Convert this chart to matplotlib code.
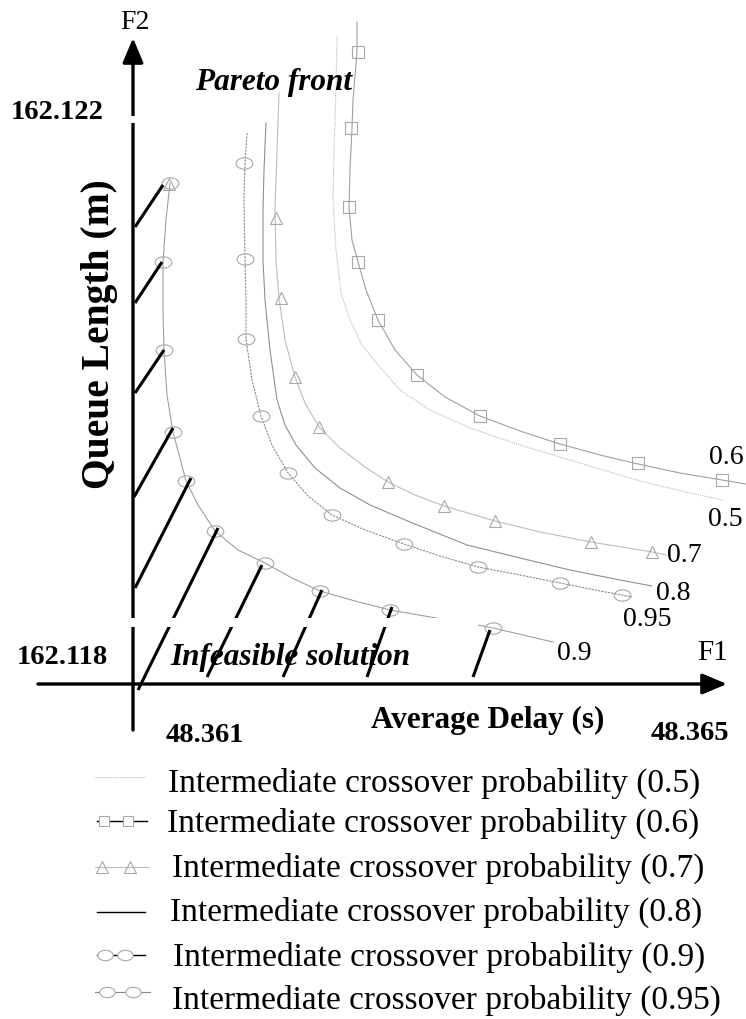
import matplotlib
matplotlib.use('Agg')
import matplotlib.pyplot as plt
import numpy as np
from matplotlib.path import Path
from matplotlib.patches import Rectangle

plt.rcParams['font.family'] = ['Liberation Serif', 'DejaVu Serif']

# ---------------- data (schematic coordinates) ----------------
# Pareto curves for each intermediate crossover probability
p05_x = [337, 336, 334, 333, 336, 341, 350, 362, 378, 400, 430, 470, 520, 580, 640, 690, 723]
p05_y = [37, 90, 150, 200, 250, 293, 320, 345, 365, 390, 410, 428, 445, 463, 481, 493, 500]

p06_x = [357, 357, 353, 352, 350, 349, 352, 358, 366, 378, 395, 417, 445, 480, 520, 560, 600, 638, 680, 722, 746]
p06_y = [22, 52, 100, 128, 170, 207, 240, 262, 290, 320, 350, 375, 397, 416, 431, 444, 455, 464, 473, 480, 484]
p06_mx = [358, 351, 349, 358, 378, 417, 480, 560, 638, 722]
p06_my = [52, 128, 207, 262, 320, 375, 416, 444, 463, 480]

p07_x = [279, 277, 275, 276, 279, 285, 295, 305, 319, 340, 365, 388, 415, 444, 495, 540, 591, 652, 666]
p07_y = [93, 150, 210, 260, 298, 340, 377, 403, 427, 448, 467, 482, 495, 506, 521, 532, 542, 552, 555]
p07_mx = [276, 281, 295, 319, 388, 444, 495, 591, 652]
p07_my = [218, 298, 377, 427, 482, 506, 521, 542, 552]

p08_x = [266, 264, 263, 263, 265, 270, 277, 285, 296, 315, 340, 370, 410, 467, 520, 570, 620, 652]
p08_y = [123, 170, 210, 260, 300, 350, 400, 425, 445, 468, 488, 505, 522, 545, 558, 570, 580, 586]

p09_x = [170, 166, 163, 163, 164, 167, 173, 186, 198, 215, 238, 265, 292, 320, 355, 390, 442, 472, 493, 553]
p09_y = [183, 220, 262, 310, 350, 395, 432, 481, 505, 531, 550, 563, 578, 591, 601, 610, 619, 624, 628, 642]
p09_mx = [170, 163, 164, 173, 186, 215, 265, 320, 390, 493]
p09_my = [183, 262, 350, 432, 481, 531, 563, 591, 610, 628]

p095_x = [247, 245, 244, 245, 246, 246, 252, 261, 272, 288, 308, 332, 365, 404, 440, 478, 520, 560, 600, 622, 632]
p095_y = [133, 163, 200, 259, 300, 339, 380, 416, 445, 473, 496, 515, 530, 544, 556, 567, 575, 583, 591, 595, 597]
p095_mx = [244, 245, 246, 261, 288, 332, 404, 478, 560, 622]
p095_my = [163, 259, 339, 416, 473, 515, 544, 567, 583, 595]

# stray triangle drawn on top of the first 0.9 marker
stray_x = [169]
stray_y = [184]

# hatching of the infeasible region (start -> end)
hatch_x0 = [135, 135, 135, 134, 135, 138, 207, 283, 367, 473]
hatch_y0 = [227, 303, 393, 497, 588, 690, 677, 677, 677, 677]
hatch_x1 = [163, 162, 164, 173, 191, 218, 262, 322, 392, 490]
hatch_y1 = [185, 262, 350, 428, 478, 528, 565, 590, 607, 630]

curve_labels = ['0.6', '0.5', '0.7', '0.8', '0.95', '0.9']
curve_label_x = [726, 725, 684, 673, 647, 574]
curve_label_y = [458, 520, 556, 594, 620, 653]

legend_labels = ['Intermediate crossover probability (0.5)',
                 'Intermediate crossover probability (0.6)',
                 'Intermediate crossover probability (0.7)',
                 'Intermediate crossover probability (0.8)',
                 'Intermediate crossover probability (0.9)',
                 'Intermediate crossover probability (0.95)']

# ---------------- figure ----------------
fig = plt.figure(figsize=(7.46, 10.19), dpi=100)
ax = fig.add_axes([0, 0, 1, 1])
ax.set_xlim(0, 746)
ax.set_ylim(1019, 0)
ax.axis('off')

circ = Path.unit_circle()
ell = Path(circ.vertices * np.array([1.0, 0.68]), circ.codes)

mk_col = '#a8a8a8'

# curves
ax.plot(p05_x, p05_y, color='#b8b8b8', lw=0.8, ls=(0, (1, 1)), zorder=2)
ax.plot(p06_x, p06_y, color='#a0a0a0', lw=0.8, zorder=2)
ax.plot(p06_mx, p06_my, ls='none', marker='s', ms=8, mfc='none', mec=mk_col, mew=0.8, zorder=2)
ax.plot(p07_x, p07_y, color='#bdbdbd', lw=0.8, zorder=2)
ax.plot(p07_mx, p07_my, ls='none', marker='^', ms=9, mfc='none', mec=mk_col, mew=0.8, zorder=2)
ax.plot(p08_x, p08_y, color='#909090', lw=0.8, zorder=2)
ax.plot(p09_x, p09_y, color='#a0a0a0', lw=0.8, zorder=2)
ax.plot(p09_mx, p09_my, ls='none', marker=ell, ms=12, mfc='none', mec=mk_col, mew=0.8, zorder=2)
ax.plot(p095_x, p095_y, color='#8a8a8a', lw=0.8, ls=(0, (2, 1)), zorder=2)
ax.plot(p095_mx, p095_my, ls='none', marker=ell, ms=12, mfc='none', mec=mk_col, mew=0.8, zorder=2)
ax.plot(stray_x, stray_y, ls='none', marker='^', ms=8, mfc='none', mec=mk_col, mew=0.8, zorder=2)

# hatching
for x0, y0, x1, y1 in zip(hatch_x0, hatch_y0, hatch_x1, hatch_y1):
    ax.plot([x0, x1], [y0, y1], color='black', lw=2.2, solid_capstyle='butt', zorder=2.5)

# axes arrows
ax.annotate('', xy=(727, 684), xytext=(38, 684),
            arrowprops=dict(arrowstyle='-|>,head_length=1.0,head_width=0.42', lw=2.4,
                            color='black', shrinkA=0, shrinkB=0, mutation_scale=15), zorder=2)
ax.annotate('', xy=(133, 38), xytext=(133, 730),
            arrowprops=dict(arrowstyle='-|>,head_length=1.0,head_width=0.42', lw=2.4,
                            color='black', shrinkA=0, shrinkB=0, mutation_scale=15), zorder=2)

# white breaks
ax.add_patch(Rectangle((122, 618), 356, 9, facecolor='white', edgecolor='none', zorder=3))
ax.add_patch(Rectangle((122, 116), 22, 7, facecolor='white', edgecolor='none', zorder=3))

# texts
ax.text(135, 22, 'F2', ha='center', va='center', fontsize=20, zorder=5)
ax.text(713, 653, 'F1', ha='center', va='center', fontsize=21, zorder=5)
ax.text(57, 112, '162.122', ha='center', va='center', fontsize=20.5, fontweight='bold', zorder=5)
ax.text(62, 658, '162.118', ha='center', va='center', fontsize=20.5, fontweight='bold', zorder=5)
ax.text(274, 82, 'Pareto front', ha='center', va='center', fontsize=22.5, fontweight='bold',
        fontstyle='italic', zorder=5)
ax.text(290, 658, 'Infeasible solution', ha='center', va='center', fontsize=22.5, fontweight='bold',
        fontstyle='italic', zorder=5)
ax.text(100, 334, 'Queue Length (m)', ha='center', va='center', fontsize=28.5, fontweight='bold',
        rotation=90, zorder=5)
ax.text(488, 720, 'Average Delay (s)', ha='center', va='center', fontsize=22.5, fontweight='bold', zorder=5)
ax.text(205, 736, '48.361', ha='center', va='center', fontsize=20.5, fontweight='bold', zorder=5)
ax.text(690, 733, '48.365', ha='center', va='center', fontsize=20.5, fontweight='bold', zorder=5)

for lab, lx, ly in zip(curve_labels, curve_label_x, curve_label_y):
    ax.text(lx, ly, lab, ha='center', va='center', fontsize=20, zorder=5)

# legend (drawn manually)
leg_line_y = [777, 821, 867, 912, 955, 992]
leg_text_y = [783, 823, 868, 912, 957, 1000]
leg_text_x = [168, 167, 172, 170, 173, 172]

ax.plot([95, 145], [leg_line_y[0]] * 2, color='#b8b8b8', lw=0.8, ls=(0, (1, 1)))
ax.plot([97, 147], [leg_line_y[1]] * 2, color='black', lw=1.0)
ax.plot([104, 128], [leg_line_y[1]] * 2, ls='none', marker='s', ms=7, mfc='white', mec=mk_col, mew=0.8)
ax.plot([95, 148], [leg_line_y[2]] * 2, color='#bdbdbd', lw=0.8)
ax.plot([102, 130], [leg_line_y[2]] * 2, ls='none', marker='^', ms=8, mfc='none', mec=mk_col, mew=0.8)
ax.plot([97, 145], [leg_line_y[3]] * 2, color='black', lw=1.0)
ax.plot([97, 145], [leg_line_y[4]] * 2, color='black', lw=1.0)
ax.plot([105, 125], [leg_line_y[4]] * 2, ls='none', marker=ell, ms=11, mfc='white', mec=mk_col, mew=0.8)
ax.plot([95, 150], [leg_line_y[5]] * 2, color='#8a8a8a', lw=0.8)
ax.plot([107, 133], [leg_line_y[5]] * 2, ls='none', marker=ell, ms=11, mfc='white', mec=mk_col, mew=0.8)

for lab, tx, ty in zip(legend_labels, leg_text_x, leg_text_y):
    ax.text(tx, ty, lab, ha='left', va='center', fontsize=24)

fig.savefig('out.png', dpi=100)
